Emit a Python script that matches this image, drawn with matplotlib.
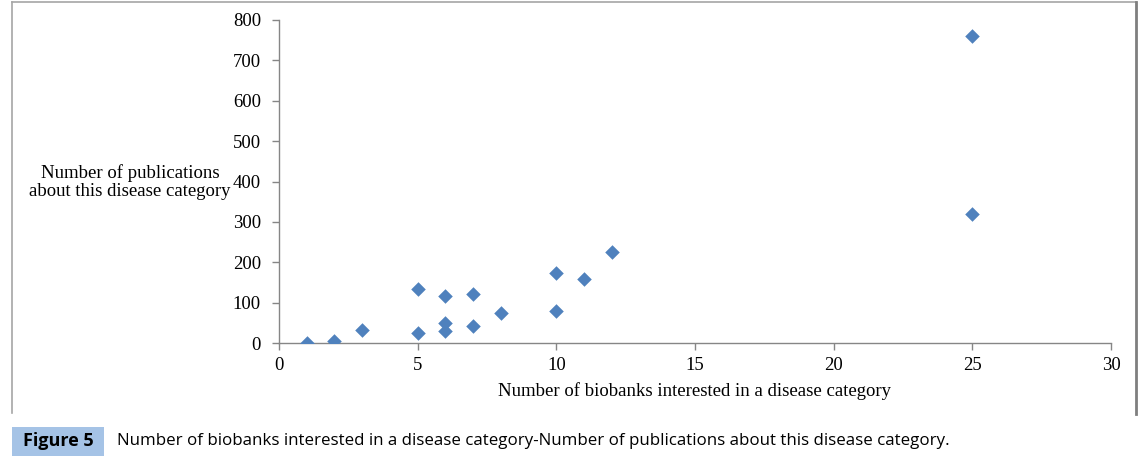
import matplotlib.pyplot as plt
from matplotlib.patches import Rectangle
from matplotlib.lines import Line2D

biobanks = [1, 2, 3, 5, 5, 6, 6, 6, 7, 7, 8, 10, 10, 11, 12, 25, 25]
publications = [1, 5, 32, 134, 25, 116, 50, 30, 121, 42, 74, 173, 79, 158, 225, 760, 319]

x_ticks = [0, 5, 10, 15, 20, 25, 30]
y_ticks = [0, 100, 200, 300, 400, 500, 600, 700, 800]

plt.rcParams['font.family'] = ['Liberation Serif', 'DejaVu Serif']

fig = plt.figure(figsize=(11.42, 4.58), dpi=100)
ax = fig.add_axes([279 / 1142, 115 / 458, 832 / 1142, 323 / 458])

ax.scatter(biobanks, publications, marker='D', s=55, color='#4f81bd', zorder=3, linewidths=0)

ax.set_xlim(0, 30)
ax.set_ylim(0, 800)
ax.set_xticks(x_ticks)
ax.set_yticks(y_ticks)
for s in ['top', 'right']:
    ax.spines[s].set_visible(False)
for s in ['left', 'bottom']:
    ax.spines[s].set_color('#868686')
    ax.spines[s].set_linewidth(1)
ax.tick_params(axis='both', colors='#868686', labelcolor='black', labelsize=13.5, length=5, width=1)
ax.tick_params(axis='y', pad=8)
ax.tick_params(axis='x', pad=5)

ax.set_xlabel('Number of biobanks interested in a disease category', fontsize=13.5, labelpad=6)
fig.text(130 / 1142, 1 - 182 / 458, 'Number of publications\nabout this disease category',
         ha='center', va='center', fontsize=13.5, linespacing=1.1)

# outer frame of the figure
frame = '#a6a6a6'
fig.add_artist(Line2D([12 / 1142, 12 / 1142], [1 - 413 / 458, 1 - 2 / 458], transform=fig.transFigure, color=frame, lw=1.2))
fig.add_artist(Line2D([12 / 1142, 1136 / 1142], [1 - 2 / 458, 1 - 2 / 458], transform=fig.transFigure, color=frame, lw=1.2))
fig.add_artist(Line2D([1136 / 1142, 1136 / 1142], [1 - 414 / 458, 1 - 2 / 458], transform=fig.transFigure, color='#7f7f7f', lw=2))

# caption
fig.add_artist(Rectangle((12 / 1142, 1 - 456 / 458), 92 / 1142, 29 / 458, transform=fig.transFigure,
                         facecolor='#a5c3e6', edgecolor='none'))
fig.text(58 / 1142, 1 - 441 / 458, 'Figure 5', ha='center', va='center', fontsize=13,
         fontweight='bold', family=['Open Sans', 'DejaVu Sans'])
fig.text(117 / 1142, 1 - 441 / 458,
         'Number of biobanks interested in a disease category-Number of publications about this disease category.',
         ha='left', va='center', fontsize=12.15, family=['Open Sans', 'DejaVu Sans'])

fig.savefig('out.png', dpi=100)
